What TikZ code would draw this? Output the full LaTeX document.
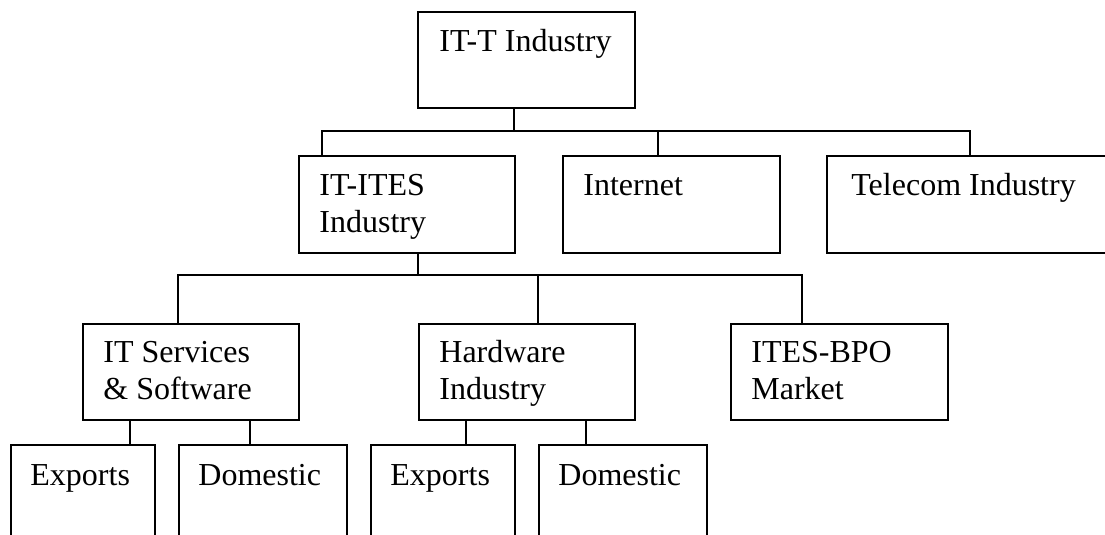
\documentclass[tikz,border=0pt]{standalone}
\usepackage{fontspec}
\setmainfont{Liberation Serif}
\begin{document}
\begin{tikzpicture}[x=0.5pt,y=-0.5pt,
  box/.style={draw, line width=1pt, inner sep=0pt, anchor=north west, minimum width=108.5pt, minimum height=48pt},
  lbl/.style={anchor=base west, inner sep=0pt, align=left, font=\fontsize{16pt}{18.5pt}\selectfont},
  conn/.style={line width=1pt}]
\useasboundingbox (0,0) rectangle (1105,535);
\begin{scope}
\clip (0,0) rectangle (1105,535);
% boxes
\node[box] (top) at (417,11) {};
\node[box, minimum width=108pt, minimum height=48.5pt] (itites) at (298,155) {};
\node[box, minimum height=48.5pt] (internet) at (562,155) {};
\node[box, minimum width=150pt, minimum height=48.5pt] (telecom) at (826,155) {};
\node[box, minimum width=108pt] (itsvc) at (82,323) {};
\node[box, minimum width=108pt] (hw) at (418,323) {};
\node[box] (bpo) at (730,323) {};
\node[box, minimum width=72pt, minimum height=60pt] (exp1) at (10,444) {};
\node[box, minimum width=84pt, minimum height=60pt] (dom1) at (178,444) {};
\node[box, minimum width=72pt, minimum height=60pt] (exp2) at (370,444) {};
\node[box, minimum width=84pt, minimum height=60pt] (dom2) at (538,444) {};
% labels (base anchor of a two-line label is its second line)
\node[lbl] (ttop) at ([shift={(22,41)}]top.north west) {IT-T Industry};
\node[lbl] (titites) at ([shift={(21,78)}]itites.north west) {IT-ITES\\Industry};
\node[lbl] (tinternet) at ([shift={(21,41)}]internet.north west) {Internet};
\node[lbl] (ttelecom) at ([shift={(25,41)}]telecom.north west) {Telecom Industry};
\node[lbl] (titsvc) at ([shift={(21,77)}]itsvc.north west) {IT Services\\\& Software};
\node[lbl] (thw) at ([shift={(21,77)}]hw.north west) {Hardware\\Industry};
\node[lbl] (tbpo) at ([shift={(21,77)}]bpo.north west) {ITES-BPO\\Market};
\node[lbl] (texp1) at ([shift={(20,41)}]exp1.north west) {Exports};
\node[lbl] (tdom1) at ([shift={(20,41)}]dom1.north west) {Domestic};
\node[lbl] (texp2) at ([shift={(20,41)}]exp2.north west) {Exports};
\node[lbl] (tdom2) at ([shift={(20,41)}]dom2.north west) {Domestic};
% connectors level 1 -> 2
\coordinate (j1) at (514,131);
\coordinate (b1) at (322,131);
\coordinate (b2) at (658,131);
\coordinate (b3) at (970,131);
\draw[conn] (top.south -| j1) -- (j1);
\draw[conn] (itites.north -| b1) -- (b1) -- (b3) -- (telecom.north -| b3);
\draw[conn] (b2) -- (internet.north -| b2);
% connectors level 2 -> 3
\coordinate (j2) at (418,275);
\coordinate (c1) at (178,275);
\coordinate (c2) at (538,275);
\coordinate (c3) at (802,275);
\draw[conn] (itites.south -| j2) -- (j2);
\draw[conn] (itsvc.north -| c1) -- (c1) -- (c3) -- (bpo.north -| c3);
\draw[conn] (c2) -- (hw.north -| c2);
% connectors level 3 -> 4
\coordinate (d1) at (130,444);
\coordinate (d2) at (250,444);
\coordinate (d3) at (466,444);
\coordinate (d4) at (586,444);
\draw[conn] (itsvc.south -| d1) -- (exp1.north -| d1);
\draw[conn] (itsvc.south -| d2) -- (dom1.north -| d2);
\draw[conn] (hw.south -| d3) -- (exp2.north -| d3);
\draw[conn] (hw.south -| d4) -- (dom2.north -| d4);
\end{scope}
\end{tikzpicture}
\end{document}
